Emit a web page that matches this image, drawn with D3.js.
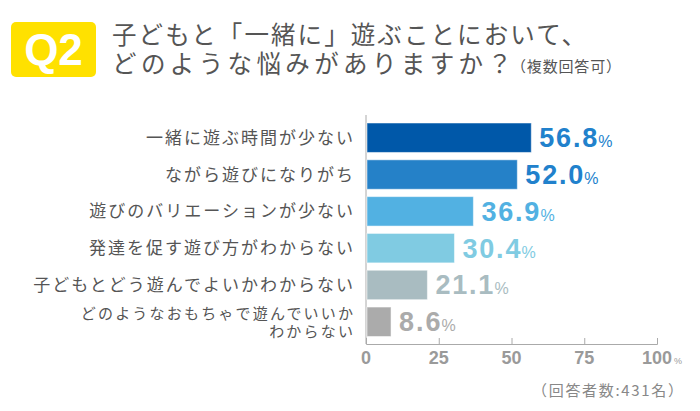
<!DOCTYPE html>
<html><head><meta charset="utf-8">
<script src="https://cdn.jsdelivr.net/npm/d3@7"></script>
<style>body{margin:0;background:#fff}svg{display:block}</style>
</head><body>
<svg id="c" width="700" height="411"></svg>
<script>
const categories = [
  ["一緒に遊ぶ時間が少ない"],
  ["ながら遊びになりがち"],
  ["遊びのバリエーションが少ない"],
  ["発達を促す遊び方がわからない"],
  ["子どもとどう遊んでよいかわからない"],
  ["どのようなおもちゃで遊んでいいか","わからない"]
];
const values = [56.8, 52.0, 36.9, 30.4, 21.1, 8.6];
const barColors = ["#0058a9","#2581c8","#52b1e2","#80cbe2","#a9bcc1","#ababab"];
const labelColors = ["#2181cc","#2181cc","#52b1e2","#80cbe2","#a9bcc1","#ababab"];
const ticks = [0, 25, 50, 75, 100];
const titleLine1 = "子どもと「一緒に」遊ぶことにおいて、";
const titleLine2 = "どのような悩みがありますか？";
const titleNote = "（複数回答可）";
const footer = "（回答者数:431名）";

const svg = d3.select("#c");
const JP = "'Noto Sans CJK JP', sans-serif";
const NUM = "'Liberation Sans', Arial, sans-serif";

// Header
svg.append("rect").attr("x",11).attr("y",22).attr("width",85).attr("height",55).attr("rx",5).attr("fill","#ffe100");
svg.append("text").attr("x",53.5).attr("y",65).attr("text-anchor","middle").attr("font-family",NUM)
  .attr("font-weight","bold").attr("font-size",44).attr("fill","#fff").text("Q2");
svg.append("text").attr("x",112).attr("y",44).attr("font-family",JP).attr("font-size",24.5).attr("fill","#555")
  .attr("textLength",474).attr("lengthAdjust","spacing").text(titleLine1);
svg.append("text").attr("x",112).attr("y",73).attr("font-family",JP).attr("font-size",24.5).attr("fill","#555")
  .attr("textLength",400).attr("lengthAdjust","spacing").text(titleLine2);
svg.append("text").attr("x",511).attr("y",72).attr("font-family",JP).attr("font-size",15).attr("fill","#555")
  .attr("textLength",110).attr("lengthAdjust","spacing").text(titleNote);

// Scales
const x = d3.scaleLinear().domain([0,100]).range([366,657]);
const y = d3.scaleBand().domain(d3.range(values.length)).range([123,336.5]).paddingInner(0.2).paddingOuter(0);

const axisY = 344;
svg.append("line").attr("x1",x(0)).attr("x2",x(0)).attr("y1",115).attr("y2",axisY).attr("stroke","#aaa");
const ax = svg.append("g").attr("transform",`translate(0,${axisY})`)
  .call(d3.axisTop(x).tickValues(ticks).tickSize(6).tickFormat(""));
ax.select(".domain").attr("stroke","#aaa");
ax.selectAll(".tick line").attr("stroke","#aaa");

// tick labels
svg.append("g").selectAll("text").data(ticks).join("text")
  .attr("x",d=>x(d)).attr("y",364).attr("text-anchor","middle")
  .attr("font-family",NUM).attr("font-weight","bold").attr("font-size",18).attr("fill","#9a9a9a")
  .text(d=>d);
svg.append("text").attr("x",x(100)+17).attr("y",364).attr("font-family",NUM).attr("font-size",9).attr("fill","#9a9a9a").text("%");

// bars
svg.append("g").selectAll("rect").data(values).join("rect")
  .attr("x",x(0)+1).attr("y",(d,i)=>y(i)).attr("width",d=>x(d)-x(0)-1).attr("height",y.bandwidth())
  .attr("fill",(d,i)=>barColors[i]).attr("stroke","#fff").attr("stroke-opacity",0.5).attr("stroke-width",1);

// value labels
const vg = svg.append("g").selectAll("g").data(values).join("g");
vg.append("text")
  .attr("x",d=>x(d)+8).attr("y",(d,i)=>y(i)+y.bandwidth()/2+9.5)
  .attr("font-family",NUM).attr("font-weight","bold").attr("font-size",27).attr("fill",(d,i)=>labelColors[i])
  .attr("textLength",d=>{const s=d.toFixed(1); return (s.length-1)*16.5+8.5;})
  .attr("lengthAdjust","spacing")
  .text(d=>d.toFixed(1));
vg.append("text")
  .attr("x",d=>{const s=d.toFixed(1); return x(d)+8+(s.length-1)*16.5+9.5;})
  .attr("y",(d,i)=>y(i)+y.bandwidth()/2+9.5)
  .attr("font-family",NUM).attr("font-size",16).attr("fill",(d,i)=>labelColors[i]).text("%");

// category labels
categories.forEach((lines,i)=>{
  const cy = y(i)+y.bandwidth()/2;
  const multi = lines.length>1;
  const fs = multi ? 15 : 17;
  const ls = multi ? 2.2 : 2;
  const lh = 18;
  const t = svg.append("text").attr("text-anchor","end").attr("font-family",JP).attr("font-size",fs)
    .attr("letter-spacing",ls).attr("fill","#555");
  lines.forEach((ln,j)=>{
    t.append("tspan").attr("x",353+ls).attr("y",cy + 6 + (j-(lines.length-1)/2)*lh).text(ln);
  });
});

svg.append("text").attr("x",532).attr("y",396).attr("font-family",JP).attr("font-size",15).attr("fill","#888")
  .attr("textLength",151).attr("lengthAdjust","spacing").text(footer);
</script>
</body></html>
